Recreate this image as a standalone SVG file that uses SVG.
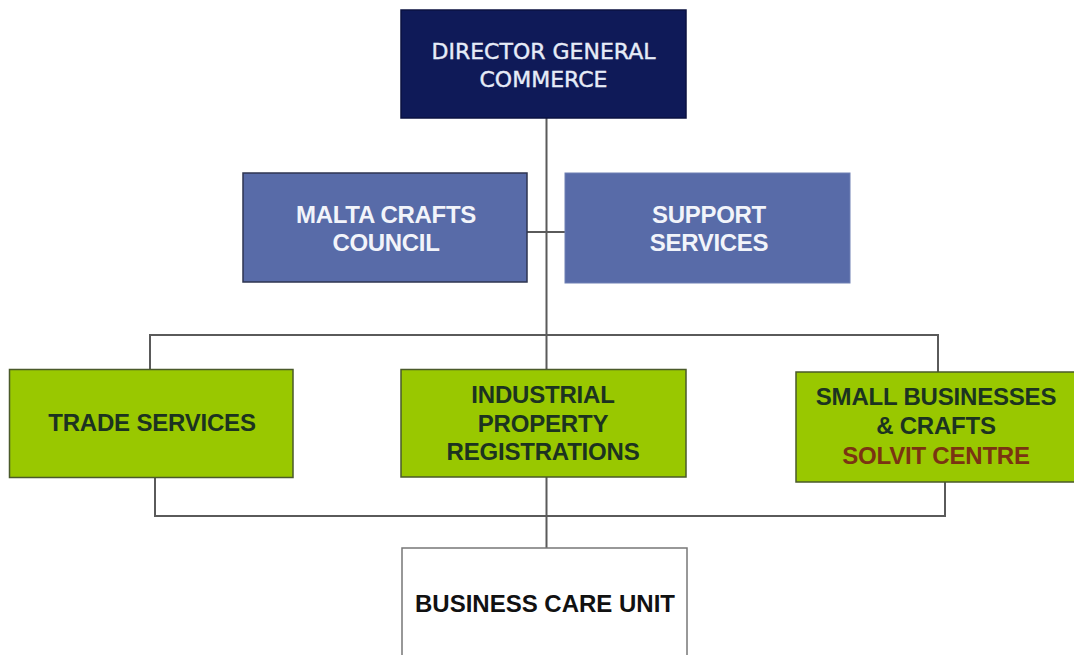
<svg xmlns="http://www.w3.org/2000/svg" width="1074" height="655" viewBox="0 0 1074 655">
<style>
.ln{stroke:#5a5a5a;stroke-width:2;fill:none}
.dg{fill:#0f1a58;stroke:#0b1240;stroke-width:1.5}
.bl{fill:#586ba8;stroke:#2e3550;stroke-width:1.5}
.bl2{fill:#586ba8;stroke:#6f80b4;stroke-width:1}
.gr{fill:#99c800;stroke:#4a5a2a;stroke-width:1.5}
.wh{fill:#ffffff;stroke:#777;stroke-width:1.5}
.t1{font-family:"DejaVu Sans",sans-serif;font-size:22px;fill:#e6ecf8;stroke:#e6ecf8;stroke-width:0.4;text-anchor:middle}
.t2{font-family:"Liberation Sans",Arial,sans-serif;font-weight:bold;font-size:24px;letter-spacing:-0.3px;fill:#f2f4fa;text-anchor:middle}
.t3{font-family:"Liberation Sans",Arial,sans-serif;font-weight:bold;font-size:24px;letter-spacing:-0.2px;fill:#1c3320;text-anchor:middle}
.t4{font-family:"Liberation Sans",Arial,sans-serif;font-weight:bold;font-size:24px;fill:#111;text-anchor:middle}
.red{fill:#7a3412}
</style>
<rect width="1074" height="655" fill="#fff"/>
<g id="connectors">
<line class="ln" x1="546.5" y1="118" x2="546.5" y2="548"/>
<line class="ln" x1="527" y1="232" x2="565" y2="232"/>
<polyline class="ln" points="150,370 150,335 938,335 938,372"/>
<polyline class="ln" points="155,478 155,516 945,516 945,482"/>
</g>
<g id="director">
<rect class="dg" x="401" y="10" width="285" height="108"/>
<text class="t1" x="543.5" y="59">DIRECTOR GENERAL</text>
<text class="t1" x="543.5" y="87">COMMERCE</text>
</g>
<g id="malta">
<rect class="bl" x="243" y="173" width="284" height="109"/>
<text class="t2" x="386" y="223">MALTA CRAFTS</text>
<text class="t2" x="386" y="251">COUNCIL</text>
</g>
<g id="support">
<rect class="bl2" x="565" y="173" width="285" height="110"/>
<text class="t2" x="709" y="223">SUPPORT</text>
<text class="t2" x="709" y="251">SERVICES</text>
</g>
<g id="trade">
<rect class="gr" x="9.5" y="369.5" width="283.5" height="108"/>
<text class="t3" x="152" y="431">TRADE SERVICES</text>
</g>
<g id="ipr">
<rect class="gr" x="401" y="369.5" width="285" height="107.5"/>
<text class="t3" x="543" y="403">INDUSTRIAL</text>
<text class="t3" x="543" y="432">PROPERTY</text>
<text class="t3" x="543" y="460">REGISTRATIONS</text>
</g>
<g id="small">
<rect class="gr" x="796" y="372" width="282" height="110"/>
<text class="t3" x="936" y="405">SMALL BUSINESSES</text>
<text class="t3" x="936" y="434">&amp; CRAFTS</text>
<text class="t3 red" x="936" y="464">SOLVIT CENTRE</text>
</g>
<g id="business">
<rect class="wh" x="402" y="548" width="285" height="120"/>
<text class="t4" x="545" y="612">BUSINESS CARE UNIT</text>
</g>
</svg>
